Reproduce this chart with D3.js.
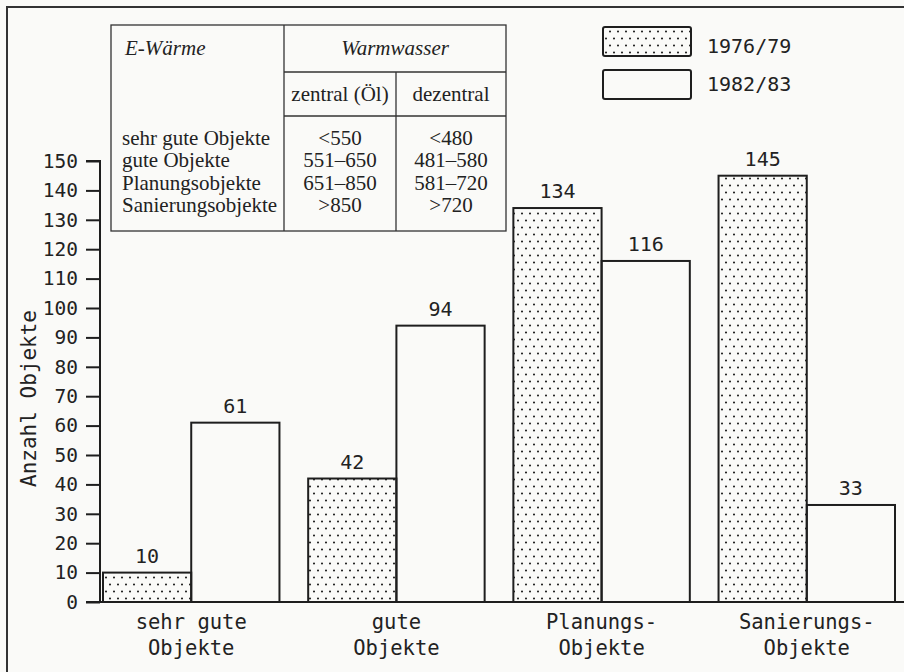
<!DOCTYPE html>
<html><head><meta charset="utf-8">
<script src="https://cdn.jsdelivr.net/npm/d3@7"></script>
<style>
html,body{margin:0;padding:0;background:#fafaf8;}
svg{display:block;}
.mono{font-family:"DejaVu Sans Mono","Liberation Mono",monospace;fill:#222;}
.serif{font-family:"Liberation Serif","DejaVu Serif",serif;fill:#222;}
</style></head>
<body>
<svg id="c" width="904" height="672"></svg>
<script>
// ---- data ----
const categories = ["sehr gute\nObjekte", "gute\nObjekte", "Planungs-\nObjekte", "Sanierungs-\nObjekte"];
const seriesNames = ["1976/79", "1982/83"];
const values1976 = [10, 42, 134, 145];
const values1982 = [61, 94, 116, 33];
const yTickValues = [0,10,20,30,40,50,60,70,80,90,100,110,120,130,140,150];
const yTitle = "Anzahl Objekte";

const tableHeadLeft = "E-Wärme";
const tableHeadRight = "Warmwasser";
const tableSubHeads = ["zentral (Öl)", "dezentral"];
const tableRows = ["sehr gute Objekte", "gute Objekte", "Planungsobjekte", "Sanierungsobjekte"];
const zentralVals = ["<550", "551–650", "651–850", ">850"];
const dezentralVals = ["<480", "481–580", "581–720", ">720"];

// ---- drawing ----
const svg = d3.select("#c");
const ink = "#1e1e1e";

const defs = svg.append("defs");
const pat = defs.append("pattern").attr("id","dots").attr("patternUnits","userSpaceOnUse")
  .attr("width",8).attr("height",14);
pat.append("circle").attr("cx",2).attr("cy",3.5).attr("r",1.05).attr("fill",ink);
pat.append("circle").attr("cx",6).attr("cy",10.5).attr("r",1.05).attr("fill",ink);

// frame
svg.append("path").attr("d","M7,672 L7,7 L904,7").attr("fill","none").attr("stroke","#333").attr("stroke-width",2);

const y = d3.scaleLinear().domain([0,150]).range([602,161]);
const x = d3.scaleBand().domain(categories).range([103,895]).paddingInner(0.14).paddingOuter(0);
const xs = d3.scaleBand().domain(seriesNames).range([0, x.bandwidth()]);

// bars
const series = [values1976, values1982];
seriesNames.forEach((s,si)=>{
  svg.append("g").selectAll("rect").data(categories).join("rect")
    .attr("x", d=>x(d)+xs(s))
    .attr("y", (d,i)=>y(series[si][i]))
    .attr("width", xs.bandwidth())
    .attr("height", (d,i)=>y(0)-y(series[si][i]))
    .attr("fill", si===0 ? "url(#dots)" : "none")
    .attr("stroke", ink).attr("stroke-width",2);
  svg.append("g").selectAll("text").data(categories).join("text")
    .attr("class","mono")
    .attr("x", d=>x(d)+xs(s)+xs.bandwidth()/2)
    .attr("y", (d,i)=>y(series[si][i])-10)
    .attr("text-anchor","middle").attr("font-size",20)
    .text((d,i)=>series[si][i]);
});

// baseline
svg.append("line").attr("x1",86).attr("x2",904).attr("y1",y(0)).attr("y2",y(0))
  .attr("stroke",ink).attr("stroke-width",2);

// y axis
const yAxis = d3.axisLeft(y).tickValues(yTickValues).tickSize(14).tickPadding(8);
const ga = svg.append("g").attr("transform","translate(100,0)").call(yAxis);
ga.select(".domain").attr("stroke",ink).attr("stroke-width",2).attr("d",`M-14,${y(150)}H0V${y(0)}`);
ga.selectAll(".tick line").attr("stroke",ink).attr("stroke-width",2);
ga.selectAll(".tick text").attr("class","mono").attr("font-size",19.5).attr("fill","#222")
  .attr("font-family",'"DejaVu Sans Mono",monospace');

svg.append("text").attr("class","mono").attr("font-size",21)
  .attr("transform",`translate(36,${(y(0)+y(150))/2+17}) rotate(-90)`)
  .attr("text-anchor","middle").text(yTitle);

// category labels
const cl = svg.append("g").selectAll("text").data(categories).join("text")
  .attr("class","mono").attr("font-size",20.5).attr("text-anchor","middle")
  .attr("x", d=>x(d)+x.bandwidth()/2).attr("y", 629);
cl.each(function(d){
  const parts = d.split("\n");
  d3.select(this).selectAll("tspan").data(parts).join("tspan")
    .attr("x", x(d)+x.bandwidth()/2).attr("dy",(p,i)=>i===0?0:26).text(p=>p);
});

// legend
const lg = svg.append("g");
seriesNames.forEach((s,i)=>{
  lg.append("rect").attr("x",603).attr("y",27+i*43).attr("width",88).attr("height",29).attr("rx",2)
    .attr("fill", i===0 ? "url(#dots)" : "#fafaf8").attr("stroke",ink).attr("stroke-width",2);
  lg.append("text").attr("class","mono").attr("font-size",20).attr("x",707).attr("y",53+i*38).text(s);
});

// table
const tb = svg.append("g");
const tL=111, tR=506, tT=25, tB=231, tC1=284, tC2=396, tH1=72, tH2=116;
const fs = 21;
tb.append("rect").attr("x",tL).attr("y",tT).attr("width",tR-tL).attr("height",tB-tT)
  .attr("fill","#fafaf8").attr("stroke","#333").attr("stroke-width",1.3);
tb.append("line").attr("x1",tC1).attr("x2",tC1).attr("y1",tT).attr("y2",tB).attr("stroke","#333").attr("stroke-width",1.3);
tb.append("line").attr("x1",tC1).attr("x2",tR).attr("y1",tH1).attr("y2",tH1).attr("stroke","#333").attr("stroke-width",1.3);
tb.append("line").attr("x1",tC1).attr("x2",tR).attr("y1",tH2).attr("y2",tH2).attr("stroke","#333").attr("stroke-width",1.3);
tb.append("line").attr("x1",tC2).attr("x2",tC2).attr("y1",tH1).attr("y2",tB).attr("stroke","#333").attr("stroke-width",1.3);

tb.append("text").attr("class","serif").attr("font-style","italic").attr("font-size",fs)
  .attr("x",125).attr("y",55).text(tableHeadLeft);
tb.append("text").attr("class","serif").attr("font-style","italic").attr("font-size",fs)
  .attr("x",(tC1+tR)/2).attr("y",55).attr("text-anchor","middle").text(tableHeadRight);
tableSubHeads.forEach((h,i)=>{
  tb.append("text").attr("class","serif").attr("font-size",fs)
    .attr("x", i===0 ? (tC1+tC2)/2 : (tC2+tR)/2).attr("y",101).attr("text-anchor","middle").text(h);
});
tableRows.forEach((r,i)=>{
  const yy = 145 + i*22.3;
  tb.append("text").attr("class","serif").attr("font-size",fs).attr("x",122).attr("y",yy).text(r);
  tb.append("text").attr("class","serif").attr("font-size",fs).attr("x",(tC1+tC2)/2).attr("y",yy)
    .attr("text-anchor","middle").text(zentralVals[i]);
  tb.append("text").attr("class","serif").attr("font-size",fs).attr("x",(tC2+tR)/2).attr("y",yy)
    .attr("text-anchor","middle").text(dezentralVals[i]);
});
</script>
</body></html>
